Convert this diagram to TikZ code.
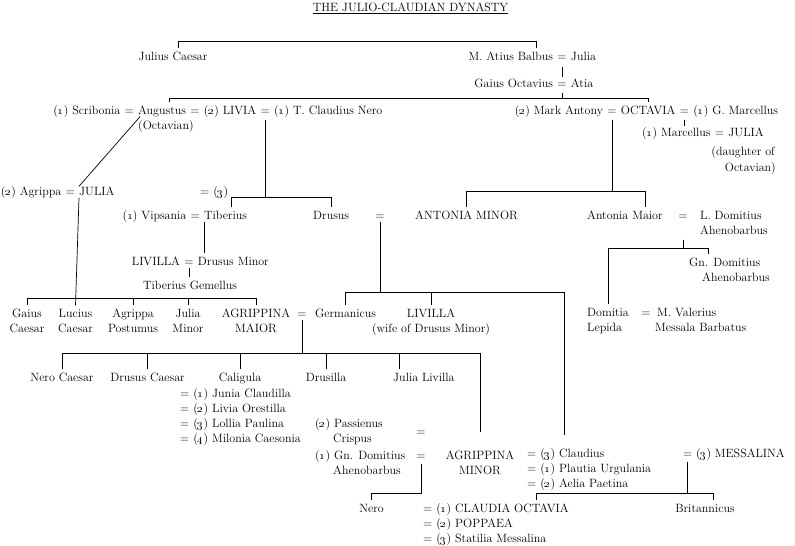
\documentclass[tikz,border=0pt]{standalone}
\usepackage{tikz}
\usetikzlibrary{positioning}

\newcommand{\wn}[1]{(\oldstylenums{#1})}

\begin{document}
\begin{tikzpicture}[x=1pt, y=-1pt, node distance=4pt,
    pn/.style={inner sep=0pt, text height=8.5pt, text depth=2.5pt, font=\fontsize{12}{15}\selectfont},
    pb/.style={pn, anchor=base},
    pw/.style={pn, anchor=base west},
    pe/.style={pn, anchor=base east},
    link/.style={line width=0.7pt}]

    \useasboundingbox (0,0) rectangle (795,546);

    % Title
    \node[pb] (title) at (410.5,11) {THE JULIO-CLAUDIAN DYNASTY};
    \draw[link] (title.south west) -- (title.south east);

    % Define people with coordinates
    \node[pb] (jcaesar) at (173,60) {Julius Caesar};
    \node[pb] (eqBJ) at (562,60) {=};
    \node[pn, left=of eqBJ] (balbus) {M. Atius Balbus};
    \node[pn, right=of eqBJ] (juliaS) {Julia};
    \node[pb] (eqGA) at (562,87) {=};
    \node[pn, left=of eqGA] (octavius) {Gaius Octavius};
    \node[pn, right=of eqGA] (atia) {Atia};

    \node[pw] (augustus) at (138,114) {Augustus};
    \node[pn, left=of augustus] (eqSA) {=};
    \node[pn, left=of eqSA] (scribonia) {\wn{1} Scribonia};
    \node[pn, right=of augustus] (eqAuL) {=};
    \node[pn, right=of eqAuL] (livia) {\wn{2} LIVIA};
    \node[pn, right=of livia] (eqLN) {=};
    \node[pn, right=of eqLN] (tcnero) {\wn{1} T. Claudius Nero};
    \node[pw] (octavian) at (138,129) {(Octavian)};

    \node[pb] (eqMO) at (612,114) {=};
    \node[pn, left=of eqMO] (antony) {\wn{2} Mark Antony};
    \node[pn, right=of eqMO] (octavia) {OCTAVIA};
    \node[pn, right=of octavia] (eqOG) {=};
    \node[pn, right=of eqOG] (gmarcellus) {\wn{1} G. Marcellus};
    \node[pw] (marcellus) at (642,136) {\wn{1} Marcellus};
    \node[pn, right=of marcellus] (eqMJ) {=};
    \node[pn, right=of eqMJ] (juliaM) {JULIA};
    \node[pe] (daughter) at (775,155) {(daughter of};
    \node[pe] (daughter2) at (776,171) {Octavian)};

    \node[pw] (juliaA) at (79,195) {JULIA};
    \node[pn, left=of juliaA] (eqAJ) {=};
    \node[pn, left=of eqAJ] (agrippa) {\wn{2} Agrippa};
    \node[pw] (eqTJ) at (200,195) {= \wn{3}};

    \node[pw] (tiberius) at (204,219) {Tiberius};
    \node[pn, left=of tiberius] (eqVT) {=};
    \node[pn, left=of eqVT] (vipsania) {\wn{1} Vipsania};
    \node[pw] (drusus) at (313,219) {Drusus};
    \node[pb] (eqDA) at (380,219) {=};
    \node[pw] (antminor) at (415,219) {ANTONIA MINOR};
    \node[pw] (antmaior) at (587,219) {Antonia Maior};
    \node[pb] (eqAD) at (683,219) {=};
    \node[pw] (ldomitius) at (700,219) {L. Domitius};
    \node[pw] (ahenA) at (700,234) {Ahenobarbus};
    \node[pw] (gndomitius) at (689,266) {Gn. Domitius};
    \node[pw] (ahenB) at (702,281) {Ahenobarbus};
    \node[pw] (domitia) at (587,316) {Domitia};
    \node[pb] (eqDV) at (646,316) {=};
    \node[pw] (valerius) at (657,316) {M. Valerius};
    \node[pw] (lepida) at (587,331) {Lepida};
    \node[pw] (messala) at (655,331) {Messala Barbatus};

    \node[pb] (eqLD) at (189,265) {=};
    \node[pn, left=of eqLD] (livillaA) {LIVILLA};
    \node[pn, right=of eqLD] (drusmin) {Drusus Minor};
    \node[pw] (gemellus) at (143,289) {Tiberius Gemellus};

    \node[pb] (gaius) at (27,317) {Gaius};
    \node[pb] (gaius2) at (27,332) {Caesar};
    \node[pb] (lucius) at (75.5,317) {Lucius};
    \node[pb] (lucius2) at (75.5,332) {Caesar};
    \node[pb] (agrpost) at (133,317) {Agrippa};
    \node[pb] (agrpost2) at (133,332) {Postumus};
    \node[pb] (juliamin) at (188,317) {Julia};
    \node[pb] (juliamin2) at (188,332) {Minor};
    \node[pb] (agrmaior) at (256,317) {AGRIPPINA};
    \node[pb] (agrmaior2) at (256,332) {MAIOR};
    \node[pb] (eqAG) at (302,317) {=};
    \node[pw] (germanicus) at (315,317) {Germanicus};
    \node[pb] (livillaB) at (431,317) {LIVILLA};
    \node[pb] (wife) at (431,332) {(wife of Drusus Minor)};

    \node[pb] (nerocaes) at (62,381) {Nero Caesar};
    \node[pb] (druscaes) at (147.5,381) {Drusus Caesar};
    \node[pb] (caligula) at (240,381) {Caligula};
    \node[pb] (drusilla) at (326,381) {Drusilla};
    \node[pw] (julialiv) at (393,381) {Julia Livilla};
    \node[pw] (calw1) at (180,397) {= \wn{1} Junia Claudilla};
    \node[pw] (calw2) at (180,412) {= \wn{2} Livia Orestilla};
    \node[pw] (calw3) at (180,427) {= \wn{3} Lollia Paulina};
    \node[pw] (calw4) at (180,442) {= \wn{4} Milonia Caesonia};

    \node[pw] (passienus) at (315,427) {\wn{2} Passienus};
    \node[pw] (crispus) at (333,442) {Crispus};
    \node[pb] (eqPA) at (421,435) {=};
    \node[pw] (gndomB) at (315,459) {\wn{1} Gn. Domitius};
    \node[pw] (ahenC) at (333,474) {Ahenobarbus};
    \node[pb] (eqGD) at (421,459) {=};
    \node[pb] (agrminor) at (480,459) {AGRIPPINA};
    \node[pb] (agrminor2) at (480,474) {MINOR};
    \node[pw] (claudius) at (527,457) {= \wn{3} Claudius};
    \node[pw] (claudw1) at (527,472) {= \wn{1} Plautia Urgulania};
    \node[pw] (claudw2) at (527,487) {= \wn{2} Aelia Paetina};
    \node[pe] (messalina) at (785,457) {= \wn{3} MESSALINA};

    \node[pb] (nero) at (371.5,512) {Nero};
    \node[pw] (nerow1) at (423,512) {= \wn{1} CLAUDIA OCTAVIA};
    \node[pw] (nerow2) at (423,527) {= \wn{2} POPPAEA};
    \node[pw] (nerow3) at (423,542) {= \wn{3} Statilia Messalina};
    \node[pb] (britannicus) at (705,512) {Britannicus};

    % Levels of the horizontal lines
    \coordinate (b1) at (0,41);
    \coordinate (b2) at (0,98);
    \coordinate (b3) at (0,197);
    \coordinate (b4) at (0,191);
    \coordinate (b5) at (0,248);
    \coordinate (b6) at (0,298);
    \coordinate (b7) at (0,292);
    \coordinate (b8) at (0,353);
    \coordinate (b9) at (0,493);
    \coordinate (jc) at ([xshift=5pt,yshift=3pt]jcaesar.north);
    \coordinate (aug) at ([xshift=7pt,yshift=3pt]augustus.north);
    \coordinate (tib) at ([xshift=6pt,yshift=3pt]tiberius.north);
    \coordinate (am) at ([xshift=20pt,yshift=3pt]antmaior.north);
    \coordinate (gd) at ([xshift=-16pt,yshift=3pt]gndomitius.north);
    \coordinate (cl) at ([xshift=37pt,yshift=13.5pt]claudius.north west);
    \coordinate (jl) at ([xshift=6pt,yshift=3pt]julialiv.north west);
    \coordinate (co) at ([xshift=113pt,yshift=3pt]nerow1.north west);
    \coordinate (br) at ([xshift=8pt,yshift=3pt]britannicus.north);
    \coordinate (me) at ([xshift=4.65pt]messalina.south west);

    % Draw the lines of descent
    \draw[link] (jc) -- (jc |- b1) -| ([xshift=-17pt,yshift=3pt]balbus.north east);
    \draw[link] ([yshift=-4.5pt]eqBJ.south) -- ([yshift=1.5pt]eqGA.north);
    \draw[link] (aug) -- (aug |- b2) -| ([yshift=3pt]octavia.north);
    \draw[link, shorten <=3pt] (eqGA.south) -- (eqGA.south |- b2);
    \draw[link, shorten <=3pt, shorten >=1pt] (eqOG.south) -- (eqOG.south |- marcellus.north);
    \draw[link] ([xshift=2pt]augustus.south west) -- (juliaA.north west);

    \draw[link, shorten <=3pt] (eqLN.south) -- (eqLN.south |- b3);
    \draw[link] (tib) |- (b3 -| drusus.north) -- ([yshift=3pt]drusus.north);
    \draw[link, shorten <=3pt] (eqMO.south) -- (eqMO.south |- b4);
    \draw[link] ([yshift=3pt]antminor.north) |- (b4 -| am) -- (am);
    \draw[link, shorten <=3pt] (eqAD.south |- ahenA.south) -- (eqAD.south |- b5);
    \draw[link] ([yshift=3pt]domitia.north) |- (b5 -| gd) -- (gd);

    \draw[link, shorten >=3pt] (tiberius.south west) -- (tiberius.south west |- drusmin.north);
    \draw[link, shorten >=3pt] (eqLD.south) -- (eqLD.south |- gemellus.north);

    \draw[link] ([yshift=3pt]gaius.north) |- (b6 -| agrmaior.north) -- ([yshift=3pt]agrmaior.north);
    \draw[link] (agrpost.north |- b6) -- ([yshift=3pt]agrpost.north);
    \draw[link] (juliamin.north |- b6) -- ([yshift=3pt]juliamin.north);
    \draw[link] (juliaA.south west) -- ([yshift=3pt]lucius.north);

    \draw[link] (eqDA.south) -- (eqDA.south |- b7);
    \draw[link] ([yshift=3pt]germanicus.north) |- (b7 -| cl) -- (cl);
    \draw[link] (livillaB.north |- b7) -- ([yshift=3pt]livillaB.north);

    \draw[link] (eqAG.south) -- (eqAG.south |- b8);
    \draw[link] ([yshift=3pt]nerocaes.north) |- (b8 -| agrminor.north) -- ([yshift=18pt]agrminor.north);
    \draw[link] (druscaes.north |- b8) -- ([yshift=3pt]druscaes.north);
    \draw[link] (caligula.north |- b8) -- ([yshift=3pt]caligula.north);
    \draw[link] (drusilla.north |- b8) -- ([yshift=3pt]drusilla.north);
    \draw[link] (jl |- b8) -- (jl);

    \draw[link, shorten <=2.5pt] (eqGD.south) -- (eqGD.south |- b9) -| ([yshift=3pt]nero.north);
    \draw[link] (co) |- (b9 -| br) -- (br);
    \draw[link, shorten <=2.5pt] (me) -- (me |- b9);
\end{tikzpicture}
\end{document}
